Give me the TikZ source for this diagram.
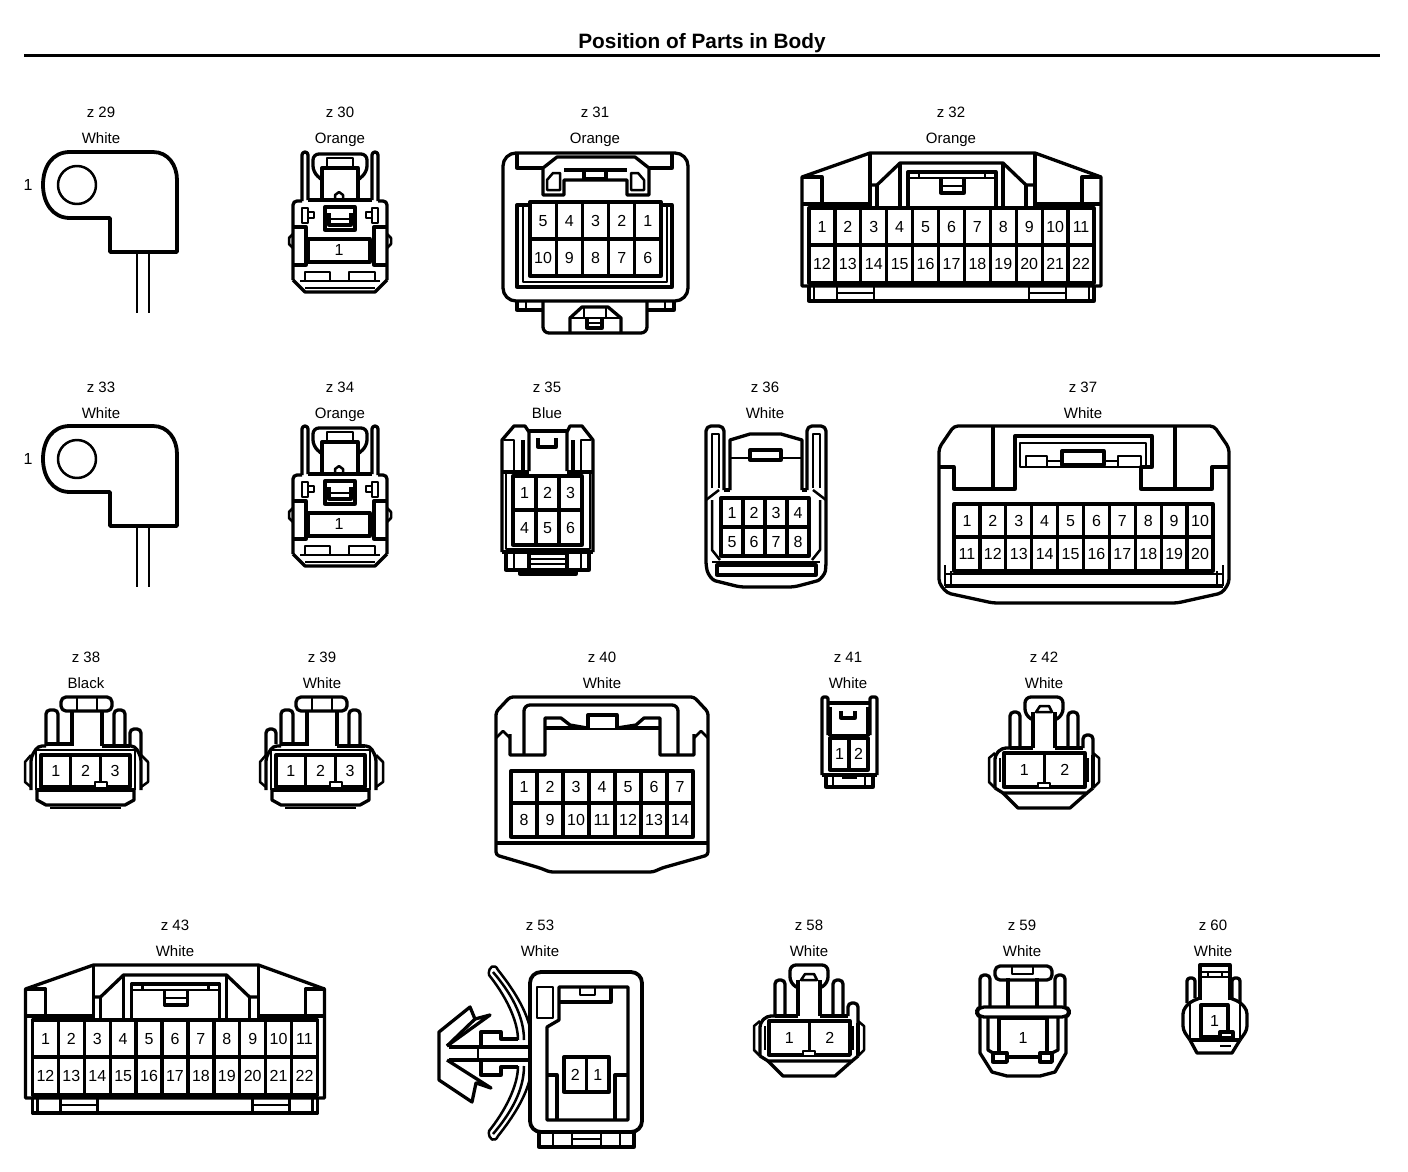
\documentclass[tikz,border=0pt]{standalone}
\usepackage{fontspec}
\setmainfont{Liberation Sans}
\usepackage{tikz}
\tikzset{
  outl/.style={line width=3.3pt,line join=round},
  inl/.style={line width=2.5pt,line join=round},
  tag/.style={inner sep=0pt,text height=11pt,text depth=3.2pt,font=\fontsize{15}{18}\selectfont},
  pin/.style={inner sep=0pt,text height=11.4pt,text depth=0pt,font=\fontsize{16}{18}\selectfont},
}

% label pair above a part
\newcommand\parttag[4]{%
  \node[tag] (#1id) at (#2,#3+2) {z #1};
  \node[tag] (#1col) at (#2,#3+28) {#4};
}
% name, x0, x1, ytop, ybot, columns, pin list
\newcommand\pinrow[7]{%
  \foreach \pinno [count=\k] in {#7}{
    \pgfmathsetmacro\pinL{#2+(\k-1)*(#3-#2)/#6}
    \pgfmathsetmacro\pinR{#2+\k*(#3-#2)/#6}
    \draw[outl] (\pinL,#4) rectangle (\pinR,#5);
    \node[pin] (#1p\pinno) at ({(\pinL+\pinR)/2},{(#4+#5)/2}) {\pinno};
  }
}

\newcommand\lugpart[1]{%
  \draw[outl,line width=3.8pt] (70,152) -- (153,152) .. controls (168,152) and (177,165) .. (177,180)
  -- (177,252) -- (110,252) -- (110,218) -- (70,218)
  .. controls (52,218) and (43,202) .. (43,185) .. controls (43,167) and (52,152) .. (70,152) -- cycle;
  \draw[inl] (77,185) circle[radius=19];
  \draw[inl] (137,252) -- (137,313);
  \draw[inl] (149,252) -- (149,313);
  \node[pin] (#1p1) at (28,185) {1};
}

\newcommand\oneslot[1]{%
  \draw[outl,rounded corners=4] (293,280) -- (293,201) -- (302,201);
  \draw[outl,rounded corners=4] (387,280) -- (387,201) -- (378,201);
  \draw[outl] (293,280) -- (305,292) -- (375,292) -- (387,280);
  \draw[outl] (308,200) -- (372,200);
  \draw[outl,rounded corners=3] (302,201) -- (302,152) -- (308,152) -- (308,200);
  \draw[outl,rounded corners=3] (372,200) -- (372,152) -- (378,152) -- (378,201);
  \draw[outl,rounded corners=6] (322,180) -- (313,172) -- (313,154) -- (367,154) -- (367,172) -- (358,180);
  \draw[outl] (322,200) -- (322,168) -- (358,168) -- (358,200);
  \draw[inl] (327,168) -- (327,158) -- (353,158) -- (353,168);
  \draw[inl] (335,200) -- (335,195) -- (339,192) -- (343,195) -- (343,200);
  \draw[inl] (302,208) rectangle (308,223);
  \draw[inl] (308,212) -- (314,212) -- (314,218) -- (308,218);
  \draw[inl] (372,208) rectangle (378,223);
  \draw[inl] (372,212) -- (366,212) -- (366,218) -- (372,218);
  \draw[outl] (325,207) rectangle (355,230);
  \draw[outl] (329,213) -- (329,225) -- (351,225) -- (351,213);
  \draw[inl] (329,219) -- (351,219);
  \draw[outl] (293,227) -- (306,227) -- (306,265) -- (293,265);
  \draw[outl] (387,227) -- (374,227) -- (374,265) -- (387,265);
  \draw[inl] (293,234) -- (289,238) -- (289,244) -- (293,248);
  \draw[inl] (387,234) -- (391,238) -- (391,244) -- (387,248);
  \draw[outl] (308,239) rectangle (370,262);
  \node[pin] (#1p1) at (339,250) {1};
  \draw[inl] (305,280) -- (305,272) -- (330,272) -- (330,280);
  \draw[inl] (349,280) -- (349,272) -- (375,272) -- (375,280);
  \draw[inl] (300,281) -- (380,281);
  \draw[inl] (305,288) -- (375,288);
}

\newcommand\widepart[1]{%
  \draw[outl] (802,286) -- (802,177) -- (870,153) -- (1035,153) -- (1101,177) -- (1101,286) -- cycle;
  \draw[outl] (802,177) -- (822,177) -- (822,203);
  \draw[outl] (1101,177) -- (1082,177) -- (1082,203);
  \draw[outl] (802,204) -- (870,204);
  \draw[outl] (1035,204) -- (1101,204);
  \draw[outl] (870,153) -- (870,208);
  \draw[outl] (1035,153) -- (1035,208);
  \draw[outl] (870,185) -- (877,185) -- (900,163) -- (1003,163) -- (1026,185) -- (1035,185);
  \draw[outl] (877,185) -- (877,208);
  \draw[outl] (1026,185) -- (1026,208);
  \draw[outl] (900,163) -- (900,206);
  \draw[outl] (1003,163) -- (1003,206);
  \draw[outl] (908,206) -- (908,172) -- (996,172) -- (996,206);
  \draw[inl] (908,178) -- (996,178);
  \draw[inl] (919,172) -- (919,178);
  \draw[inl] (985,172) -- (985,178);
  \draw[outl] (941,178) -- (941,193) -- (964,193) -- (964,178);
  \draw[inl] (941,186) -- (964,186);
  \pinrow{#1}{809}{1094}{208}{245}{11}{1,2,3,4,5,6,7,8,9,10,11}
  \pinrow{#1}{809}{1094}{245}{283}{11}{12,13,14,15,16,17,18,19,20,21,22}
  \draw[outl] (809,286) -- (809,301) -- (1094,301) -- (1094,286);
  \draw[inl] (814,286) -- (814,301);
  \draw[inl] (1089,286) -- (1089,301);
  \draw[inl] (837,286) -- (837,301);
  \draw[inl] (874,286) -- (874,301);
  \draw[inl] (1029,286) -- (1029,301);
  \draw[inl] (1066,286) -- (1066,301);
  \draw[inl] (837,293) -- (874,293);
  \draw[inl] (1029,293) -- (1066,293);
}

\newcommand\threeslot[1]{%
  \draw[outl,rounded corners=5] (61,697) rectangle (112,711);
  \draw[inl] (77,697) -- (77,711);
  \draw[inl] (97,697) -- (97,711);
  \draw[outl] (72,711) -- (72,746);
  \draw[outl] (102,711) -- (102,746);
  \draw[outl,rounded corners=4] (46,746) -- (46,710) -- (58,710) -- (58,744);
  \draw[outl,rounded corners=4] (114,744) -- (114,710) -- (125,710) -- (125,746);
  \draw[outl] (46,744) -- (72,744);
  \draw[outl] (102,746) -- (130,746);
  \draw[outl,rounded corners=4] (31,790) -- (31,757) -- (38,746) -- (46,746);
  \draw[outl,rounded corners=4] (141,790) -- (141,757) -- (135,746) -- (130,746);
  \draw[inl] (31,755) -- (25,762) -- (25,782) -- (31,787);
  \draw[inl] (141,755) -- (148,762) -- (148,782) -- (141,787);
  \draw[inl] (36,790) -- (36,750) -- (135,750) -- (135,790);
  \draw[outl] (36,790) -- (135,790);
  \pinrow{#1}{41}{130}{755}{787}{3}{1,2,3}
  \draw[inl,fill=white] (95,782) rectangle (107,788);
  \draw[outl] (37,790) -- (37,800) -- (46,805) -- (125,805) -- (134,800) -- (134,790);
  \draw[inl] (50,808) -- (121,808);
}

\newcommand\twoslot[1]{%
  \draw[outl,rounded corners=6] (1033,720) -- (1025,715) -- (1025,697) -- (1063,697) -- (1063,715) -- (1055,720);
  \draw[inl] (1036,712) -- (1040,706) -- (1049,706) -- (1052,712) -- cycle;
  \draw[outl] (1033,712) -- (1033,748);
  \draw[outl] (1055,712) -- (1055,748);
  \draw[outl,rounded corners=4] (1010,748) -- (1010,712) -- (1020,712) -- (1020,746);
  \draw[outl,rounded corners=4] (1068,746) -- (1068,712) -- (1078,712) -- (1078,746);
  \draw[outl,rounded corners=4] (1083,748) -- (1083,735) -- (1093,735) -- (1093,755);
  \draw[outl] (1010,748) -- (1033,748);
  \draw[outl] (1055,748) -- (1083,748);
  \draw[outl,rounded corners=4] (995,788) -- (995,755) -- (1002,748) -- (1010,748);
  \draw[inl] (995,753) -- (989,758) -- (989,782) -- (995,788);
  \draw[inl] (1093,753) -- (1099,758) -- (1099,782) -- (1093,788);
  \draw[outl] (1093,755) -- (1093,788);
  \draw[inl] (1000,758) -- (1000,782);
  \draw[inl] (1088,758) -- (1088,782);
  \pinrow{#1}{1004}{1085}{753}{787}{2}{1,2}
  \draw[inl,fill=white] (1038,783) rectangle (1050,788);
  \draw[outl] (995,788) -- (1003,793) -- (1087,793) -- (1093,788);
  \draw[outl] (1003,793) -- (1018,808) -- (1070,808) -- (1087,793);
}

\begin{document}
\begin{tikzpicture}[x=1pt,y=-1pt]
  \useasboundingbox (0,0) rectangle (1408,1172);

  \node[inner sep=0pt,text height=14.5pt,text depth=4pt,font=\fontsize{20.8}{22}\selectfont\bfseries] (title) at (702,43) {Position of Parts in Body};
  \coordinate (ruleL) at (24,55.5);
  \coordinate (ruleR) at (1380,55.5);
  \draw[line width=3.8pt] (ruleL) -- (ruleR);

  \parttag{29}{101}{112}{White}
  \parttag{30}{340}{112}{Orange}
  \parttag{31}{595}{112}{Orange}
  \parttag{32}{951}{112}{Orange}
  \parttag{33}{101}{387}{White}
  \parttag{34}{340}{387}{Orange}
  \parttag{35}{547}{387}{Blue}
  \parttag{36}{765}{387}{White}
  \parttag{37}{1083}{387}{White}
  \parttag{38}{86}{657}{Black}
  \parttag{39}{322}{657}{White}
  \parttag{40}{602}{657}{White}
  \parttag{41}{848}{657}{White}
  \parttag{42}{1044}{657}{White}
  \parttag{43}{175}{925}{White}
  \parttag{53}{540}{925}{White}
  \parttag{58}{809}{925}{White}
  \parttag{59}{1022}{925}{White}
  \parttag{60}{1213}{925}{White}

  % top row
  \lugpart{z29}
  \oneslot{z30}

  \draw[outl,rounded corners=13] (503,153) rectangle (688,301);
  \draw[outl] (517,153) -- (517,168) -- (543,168);
  \draw[outl] (672,153) -- (672,168) -- (649,168);
  \draw[outl] (543,168) -- (557,157) -- (635,157) -- (649,168) -- (649,195) -- (627,195) -- (627,180) -- (564,180) -- (564,195) -- (543,195) -- cycle;
  \draw[outl] (564,170) -- (627,170);
  \draw[outl] (584,170) -- (584,179) -- (606,179) -- (606,170);
  \draw[inl] (547,190) -- (547,180) -- (553,173) -- (560,173) -- (560,190) -- cycle;
  \draw[inl] (644,190) -- (644,180) -- (638,173) -- (631,173) -- (631,190) -- cycle;
  \draw[outl] (530,205) -- (517,205) -- (517,287) -- (672,287) -- (672,205) -- (661,205);
  \draw[inl] (523,205) -- (523,282) -- (667,282) -- (667,205);
  \pinrow{z31}{530}{661}{202}{239}{5}{5,4,3,2,1}
  \pinrow{z31}{530}{661}{239}{276}{5}{10,9,8,7,6}
  \draw[outl] (517,301) -- (517,310) -- (543,310);
  \draw[outl] (674,301) -- (674,310) -- (647,310);
  \draw[inl] (526,301) -- (526,310);
  \draw[inl] (665,301) -- (665,310);
  \draw[outl,rounded corners=6] (543,301) -- (543,333) -- (647,333) -- (647,301);
  \draw[outl] (570,333) -- (570,318) -- (582,307) -- (608,307) -- (621,318) -- (621,333);
  \draw[inl] (570,318) -- (621,318);
  \draw[inl] (584,307) -- (584,318);
  \draw[inl] (606,307) -- (606,318);
  \draw[outl] (587,318) -- (587,328) -- (602,328) -- (602,318);
  \draw[inl] (587,323) -- (602,323);

  \widepart{z32}

  % second row
  \begin{scope}[shift={(0,274)}]
    \lugpart{z33}
    \oneslot{z34}
  \end{scope}

  \draw[outl] (502,552) -- (502,440) -- (514,426) -- (525,426) -- (529,432) -- (529,471);
  \draw[outl] (593,552) -- (593,440) -- (582,426) -- (570,426) -- (567,432) -- (567,471);
  \draw[outl] (529,431) -- (567,431);
  \draw[inl] (504,440) -- (514,440) -- (514,471);
  \draw[inl] (591,440) -- (581,440) -- (581,471);
  \draw[outl] (523,440) -- (523,471);
  \draw[outl] (573,440) -- (573,471);
  \draw[outl] (538,438) -- (538,447) -- (556,447) -- (556,438);
  \draw[outl] (502,472) -- (529,472);
  \draw[outl] (567,472) -- (593,472);
  \draw[inl] (506,472) -- (506,549) -- (590,549) -- (590,472);
  \pinrow{z35}{513}{582}{476}{510}{3}{1,2,3}
  \pinrow{z35}{513}{582}{510}{545}{3}{4,5,6}
  \draw[outl] (502,552) -- (593,552);
  \draw[outl] (506,552) -- (506,570) -- (589,570) -- (589,552);
  \draw[inl] (514,552) -- (514,570);
  \draw[inl] (581,552) -- (581,570);
  \draw[outl] (529,553) rectangle (567,570);
  \draw[inl] (529,559) -- (567,559);
  \draw[inl] (529,564) -- (567,564);
  \draw[outl] (520,570) -- (520,574) -- (576,574) -- (576,570);

  \draw[outl,rounded corners=5] (724,490) -- (724,426) -- (706,426) -- (706,566) .. controls (708,574) and (712,580) .. (720,582) -- (740,587) -- (794,587) -- (813,582) .. controls (820,580) and (825,574) .. (826,566) -- (826,426) -- (807,426) -- (807,490);
  \draw[inl] (712,488) -- (712,434) -- (719,434) -- (719,488);
  \draw[inl] (820,488) -- (820,434) -- (813,434) -- (813,488);
  \draw[outl] (730,490) -- (730,440) -- (750,434) -- (781,434) -- (802,440) -- (802,490);
  \draw[outl] (724,490) -- (730,490);
  \draw[outl] (802,490) -- (807,490);
  \draw[inl] (730,458) -- (802,458);
  \draw[outl,fill=white] (750,460) -- (750,450) -- (781,450) -- (781,460) -- cycle;
  \draw[inl] (706,500) -- (719,490);
  \draw[inl] (826,500) -- (813,490);
  \draw[inl] (712,500) -- (712,550) -- (720,560);
  \draw[inl] (820,500) -- (820,550) -- (812,560);
  \pinrow{z36}{721}{809}{498}{527}{4}{1,2,3,4}
  \pinrow{z36}{721}{809}{527}{556}{4}{5,6,7,8}
  \draw[inl] (712,562) -- (820,562);
  \draw[outl] (717,565) rectangle (816,575);

  \draw[outl,rounded corners=4] (954,426) -- (1214,426) -- (1229,448) -- (1229,583) -- (1222,593) -- (1177,603) -- (993,603) -- (947,593) -- (939,583) -- (939,448) -- cycle;
  \draw[outl] (993,426) -- (993,489);
  \draw[outl] (1175,426) -- (1175,489);
  \draw[outl] (939,467) -- (954,467) -- (954,489) -- (1015,489) -- (1015,436) -- (1152,436) -- (1152,467) -- (1141,467) -- (1141,489) -- (1212,489) -- (1212,467) -- (1229,467);
  \draw[inl] (1020,467) -- (1020,443) -- (1146,443) -- (1146,467) -- cycle;
  \draw[outl,fill=white] (1062,465) -- (1062,451) -- (1104,451) -- (1104,465) -- cycle;
  \draw[inl] (1026,467) -- (1026,456) -- (1047,456) -- (1047,467);
  \draw[inl] (1118,467) -- (1118,456) -- (1141,456) -- (1141,467);
  \draw[inl] (1047,461) -- (1062,461);
  \draw[inl] (1104,461) -- (1118,461);
  \pinrow{z37}{954}{1213}{504}{537}{10}{1,2,3,4,5,6,7,8,9,10}
  \pinrow{z37}{954}{1213}{537}{571}{10}{11,12,13,14,15,16,17,18,19,20}
  \draw[inl] (945,574) -- (1223,574);
  \draw[outl] (945,586) -- (1223,586);
  \draw[inl] (945,565) -- (945,586);
  \draw[inl] (951,571) -- (951,586);
  \draw[inl] (1217,571) -- (1217,586);
  \draw[inl] (1223,565) -- (1223,586);

  % third row
  \threeslot{z38}
  \draw[outl,rounded corners=4] (130,746) -- (130,729) -- (141,729) -- (141,755);
  \begin{scope}[shift={(235,0)}]
    \threeslot{z39}
    \draw[outl,rounded corners=4] (31,755) -- (31,729) -- (41,729) -- (41,744);
  \end{scope}

  \draw[outl,rounded corners=3] (510,697) -- (694,697) -- (708,712) -- (708,855) -- (662,868) -- (653,872) -- (550,872) -- (540,868) -- (496,855) -- (496,712) -- cycle;
  \draw[outl] (496,843) -- (708,843);
  \draw[inl] (496,738) -- (503,731) -- (510,738);
  \draw[inl] (708,738) -- (701,731) -- (694,738);
  \draw[outl] (510,734) -- (510,755) -- (545,755) -- (545,718) -- (561,718) -- (570,725) -- (587,728);
  \draw[outl] (694,734) -- (694,755) -- (660,755) -- (660,718) -- (644,718) -- (636,725) -- (617,728);
  \draw[outl,rounded corners=6] (524,755) -- (524,705) -- (678,705) -- (678,755);
  \draw[outl] (545,728) -- (660,728);
  \draw[outl,fill=white] (588,728) -- (588,715) -- (617,715) -- (617,728);
  \pinrow{z40}{511}{693}{771}{803}{7}{1,2,3,4,5,6,7}
  \pinrow{z40}{511}{693}{803}{837}{7}{8,9,10,11,12,13,14}

  \draw[outl,rounded corners=2] (822,775) -- (822,697) -- (828,697) -- (828,735);
  \draw[outl,rounded corners=2] (877,775) -- (877,697) -- (870,697) -- (870,735);
  \draw[outl] (822,775) -- (877,775);
  \draw[outl] (828,703) -- (870,703);
  \draw[outl] (830,707) -- (830,735);
  \draw[outl] (868,707) -- (868,735);
  \draw[inl] (828,735) -- (870,735);
  \draw[outl] (841,711) -- (841,718) -- (855,718) -- (855,711);
  \pinrow{z41}{830}{868}{738}{770}{2}{1,2}
  \draw[outl] (826,775) -- (826,787) -- (873,787) -- (873,775);
  \draw[inl] (833,775) -- (833,787);
  \draw[inl] (865,775) -- (865,787);
  \draw[inl] (842,778) -- (857,778);

  \twoslot{z42}

  % bottom row
  \begin{scope}[shift={(-776.5,812)}]
    \widepart{z43}
  \end{scope}

  \draw[outl,line width=3.8pt,rounded corners=11] (530,972) rectangle (642,1132);
  \draw[outl] (559,1020) -- (559,987) -- (628,987) -- (628,1120) -- (547,1120) -- (547,1027) -- cycle;
  \draw[inl] (537,987) rectangle (553,1018);
  \draw[outl] (559,1002) -- (611,1002) -- (611,987);
  \draw[inl] (580,987) -- (580,995) -- (595,995) -- (595,987);
  \draw[outl] (547,1075) -- (557,1075) -- (557,1120);
  \draw[outl] (628,1075) -- (615,1075) -- (615,1120);
  \pinrow{z53}{564}{609}{1057}{1092}{2}{2,1}
  \draw[outl] (539,1132) -- (539,1147) -- (634,1147) -- (634,1132);
  \draw[inl] (553,1132) -- (553,1147);
  \draw[inl] (572,1132) -- (572,1147);
  \draw[inl] (601,1132) -- (601,1147);
  \draw[inl] (620,1132) -- (620,1147);
  \draw[inl] (572,1139) -- (601,1139);
  \draw[inl] (530,1028) .. controls (526,1010) and (514,990) .. (498,970) .. controls (495,963) and (488,966) .. (489,975) .. controls (505,995) and (518,1020) .. (518,1040);
  \draw[inl] (493,972) .. controls (510,992) and (524,1015) .. (524,1040);
  \draw[inl] (530,1078) .. controls (526,1096) and (514,1116) .. (498,1136) .. controls (495,1143) and (488,1140) .. (489,1131) .. controls (505,1111) and (518,1086) .. (518,1066);
  \draw[inl] (493,1134) .. controls (510,1114) and (524,1091) .. (524,1066);
  \draw[outl] (447,1046) -- (475,1019) -- (470,1007) -- (439,1032) -- (439,1080) -- (472,1102) -- (476,1083) -- (491,1088) -- (447,1060);
  \draw[outl] (475,1019) -- (490,1015) -- (447,1046);
  \draw[outl] (449,1047) -- (530,1047);
  \draw[outl] (449,1060) -- (530,1060);
  \draw[inl] (478,1047) -- (478,1060);
  \draw[outl] (481,1047) -- (481,1032) -- (501,1032) -- (501,1039) -- (518,1039);
  \draw[outl] (481,1060) -- (481,1075) -- (501,1075) -- (501,1067) -- (518,1067);

  \begin{scope}[shift={(-235,268)}]
    \twoslot{z58}
  \end{scope}

  \draw[outl,rounded corners=5] (995,966) rectangle (1052,980);
  \draw[inl] (1012,966) -- (1012,974) -- (1033,974) -- (1033,966);
  \draw[outl] (1008,978) -- (1008,1007);
  \draw[outl] (1037,978) -- (1037,1007);
  \draw[outl,rounded corners=4] (980,1007) -- (980,975) -- (990,975) -- (990,1007);
  \draw[outl,rounded corners=4] (1055,1007) -- (1055,975) -- (1065,975) -- (1065,1007);
  \draw[outl,rounded corners=5] (976,1012) -- (979,1007) -- (1067,1007) -- (1070,1012) -- (1067,1017) -- (979,1017) -- cycle;
  \draw[outl] (980,1017) -- (980,1053) -- (992,1072) -- (1007,1076) -- (1040,1076) -- (1055,1072) -- (1066,1053) -- (1066,1017);
  \draw[outl] (988,1017) -- (988,1050) -- (993,1053);
  \draw[outl] (1058,1017) -- (1058,1050) -- (1052,1053);
  \pinrow{z59}{999}{1047}{1018}{1057}{1}{1}
  \draw[outl,fill=white] (993,1053) rectangle (1007,1062);
  \draw[outl,fill=white] (1040,1053) rectangle (1052,1062);
  \draw[outl] (1007,1057) -- (1040,1057);

  \draw[outl] (1200,1000) -- (1200,965) -- (1230,965) -- (1230,1000);
  \draw[inl] (1200,972) -- (1230,972);
  \draw[inl] (1200,977) -- (1230,977);
  \draw[inl] (1208,972) -- (1208,977);
  \draw[inl] (1222,972) -- (1222,977);
  \draw[outl,rounded corners=3] (1187,1003) -- (1187,978) -- (1195,978) -- (1195,998);
  \draw[outl,rounded corners=3] (1232,998) -- (1232,978) -- (1240,978) -- (1240,1003);
  \draw[outl,rounded corners=4] (1200,998) -- (1190,1002) -- (1183,1010) -- (1183,1030) -- (1190,1040);
  \draw[outl,rounded corners=4] (1230,998) -- (1240,1002) -- (1247,1010) -- (1247,1030) -- (1240,1040);
  \draw[inl] (1190,1002) -- (1190,1040);
  \draw[inl] (1240,1002) -- (1240,1040);
  \pinrow{z60}{1201}{1228}{1005}{1037}{1}{1}
  \draw[outl,fill=white] (1220,1032) rectangle (1233,1038);
  \draw[outl] (1190,1040) -- (1240,1040);
  \draw[outl] (1190,1040) -- (1197,1053) -- (1232,1053) -- (1240,1040);
  \draw[inl] (1220,1046) -- (1231,1046);
\end{tikzpicture}
\end{document}
